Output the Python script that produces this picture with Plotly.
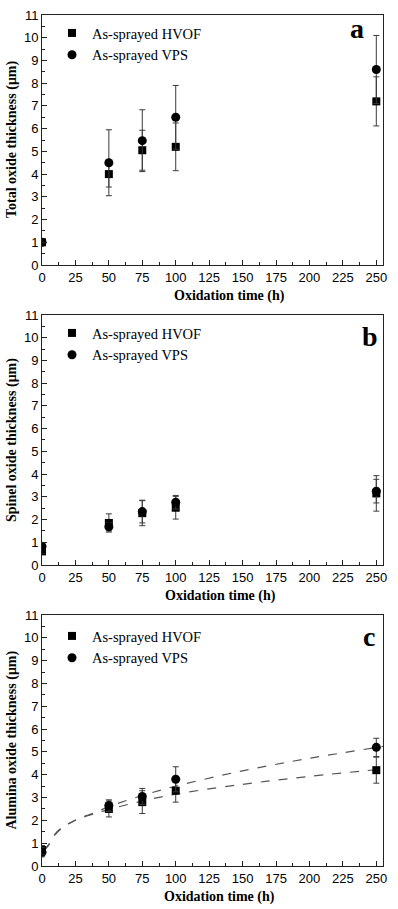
import plotly.graph_objects as go
from plotly.subplots import make_subplots

# ---------------- data ----------------
time_h = [0, 50, 75, 100, 250]

total_hvof = [1.0, 4.0, 5.05, 5.2, 7.2]
total_hvof_err = [0.0, 0.57, 0.88, 1.05, 1.08]
total_vps = [1.0, 4.5, 5.47, 6.5, 8.6]
total_vps_err = [0.0, 1.45, 1.36, 1.4, 1.5]

spinel_hvof = [0.6, 1.85, 2.28, 2.52, 3.15]
spinel_hvof_err = [0.1, 0.4, 0.55, 0.5, 0.78]
spinel_vps = [0.82, 1.68, 2.35, 2.76, 3.25]
spinel_vps_err = [0.1, 0.18, 0.5, 0.3, 0.52]

alumina_hvof = [0.7, 2.5, 2.8, 3.3, 4.2]
alumina_hvof_err = [0.2, 0.35, 0.5, 0.5, 0.57]
alumina_vps = [0.6, 2.65, 3.05, 3.8, 5.2]
alumina_vps_err = [0.2, 0.25, 0.35, 0.55, 0.4]

fit_time = [1.5, 4.5, 9.5, 15.7, 22, 28, 40, 50, 75, 100, 150, 200, 255]
fit_hvof = [0.7, 0.9, 1.39, 1.72, 1.92, 2.08, 2.3, 2.48, 2.85, 3.15, 3.58, 3.93, 4.25]
fit_vps = [0.7, 0.87, 1.35, 1.7, 1.92, 2.1, 2.35, 2.6, 3.09, 3.5, 4.17, 4.72, 5.24]

x_ticks = [0, 25, 50, 75, 100, 125, 150, 175, 200, 225, 250]
y_ticks = list(range(0, 12))

series_names = ["As-sprayed HVOF", "As-sprayed VPS"]
y_titles = ["Total oxide thickness (\u03bcm)", "Spinel oxide thickness (\u03bcm)",
            "Alumina oxide thickness (\u03bcm)"]
panel_labels = ["a", "b", "c"]
x_title = "Oxidation time (h)"

# ---------------- figure ----------------
W, H = 398, 909
ml, mr, mt, mb = 42, 15, 15, 43
fig = make_subplots(rows=3, cols=1)

domains = [[0.7062, 1.0], [0.3537, 0.6475], [0.0, 0.2949]]
panels = [
    (total_hvof, total_hvof_err, total_vps, total_vps_err),
    (spinel_hvof, spinel_hvof_err, spinel_vps, spinel_vps_err),
    (alumina_hvof, alumina_hvof_err, alumina_vps, alumina_vps_err),
]
legend_names = ["legend", "legend2", "legend3"]
err_color = "#3a3a3a"

for i, (hv, hve, vp, vpe) in enumerate(panels):
    r = i + 1
    lg = legend_names[i]
    if i == 2:
        fig.add_trace(go.Scatter(x=fit_time, y=fit_hvof, mode="lines", showlegend=False,
                                 line=dict(color="#555555", width=1.2, dash="dash", shape="spline")),
                      row=r, col=1)
        fig.add_trace(go.Scatter(x=fit_time, y=fit_vps, mode="lines", showlegend=False,
                                 line=dict(color="#555555", width=1.2, dash="dash", shape="spline")),
                      row=r, col=1)
    fig.add_trace(go.Scatter(
        x=time_h, y=hv, mode="markers", name=series_names[0], legend=lg,
        marker=dict(symbol="square", size=8, color="black"),
        error_y=dict(type="data", array=hve, visible=True, color=err_color, thickness=1, width=3),
    ), row=r, col=1)
    fig.add_trace(go.Scatter(
        x=time_h, y=vp, mode="markers", name=series_names[1], legend=lg,
        marker=dict(symbol="circle", size=9, color="black"),
        error_y=dict(type="data", array=vpe, visible=True, color=err_color, thickness=1, width=3),
    ), row=r, col=1)

axis_common = dict(showline=True, linecolor="#222222", linewidth=1, mirror=True,
                   ticks="inside", tickcolor="#222222", showgrid=False, zeroline=False,
                   tickfont=dict(family="Liberation Sans, Arial", size=13, color="black"))

for i in range(3):
    r = i + 1
    fig.update_xaxes(range=[0, 255], tickvals=x_ticks, ticklen=5,
                     minor=dict(ticks="inside", ticklen=3, dtick=12.5, tick0=0, tickcolor="#222222"),
                     row=r, col=1, **axis_common)
    fig.update_yaxes(range=[0, 11], tickvals=y_ticks, ticklen=5, domain=domains[i],
                     minor=dict(ticks="inside", ticklen=3, dtick=0.5, tick0=0, tickcolor="#222222"),
                     row=r, col=1, **axis_common)

title_font = dict(family="Liberation Serif, Times New Roman", size=14, color="black")
xtitle_centers = [230, 220, 219]
plot_w = W - ml - mr
ann = []
for i in range(3):
    xs = "x" if i == 0 else f"x{i+1}"
    ys = "y" if i == 0 else f"y{i+1}"
    ann.append(dict(text=f"<b>{x_title}</b>", xref=f"{xs} domain", yref=f"{ys} domain",
                    x=(xtitle_centers[i] - ml) / plot_w, y=0, xanchor="center", yanchor="middle",
                    yshift=-31, showarrow=False, font=title_font))
    ann.append(dict(text=f"<b>{y_titles[i]}</b>", xref=f"{xs} domain", yref=f"{ys} domain",
                    x=0, y=0.5, xanchor="center", yanchor="middle", xshift=-30, textangle=-90,
                    showarrow=False, font=title_font))
label_pos = [(0.924, 0.947), (0.963, 0.914), (0.958, 0.914)]
for i in range(3):
    xs = "x" if i == 0 else f"x{i+1}"
    ys = "y" if i == 0 else f"y{i+1}"
    ann.append(dict(text=f"<b>{panel_labels[i]}</b>", xref=f"{xs} domain", yref=f"{ys} domain",
                    x=label_pos[i][0], y=label_pos[i][1], xanchor="center", yanchor="middle",
                    showarrow=False,
                    font=dict(family="Liberation Serif, Times New Roman", size=28, color="black")))

plot_h = H - mt - mb
legend_top_px = [17, 317, 620]
leg_font = dict(family="Liberation Serif, Times New Roman", size=14.5, color="black")
legends = {}
for i, name in enumerate(legend_names):
    legends[name] = dict(x=(52 - ml) / plot_w, y=(H - mb - legend_top_px[i]) / plot_h,
                         xref="paper", yref="paper", xanchor="left", yanchor="top",
                         bgcolor="rgba(0,0,0,0)", borderwidth=0, font=leg_font,
                         tracegroupgap=0, itemsizing="trace")

fig.update_layout(
    width=W, height=H, margin=dict(l=ml, r=mr, t=mt, b=mb, autoexpand=False),
    paper_bgcolor="white", plot_bgcolor="white",
    annotations=ann, **legends,
)

fig.write_html("out.html", config={"displayModeBar": False},
               post_script="document.body.style.margin='0';document.body.style.overflow='hidden';")
